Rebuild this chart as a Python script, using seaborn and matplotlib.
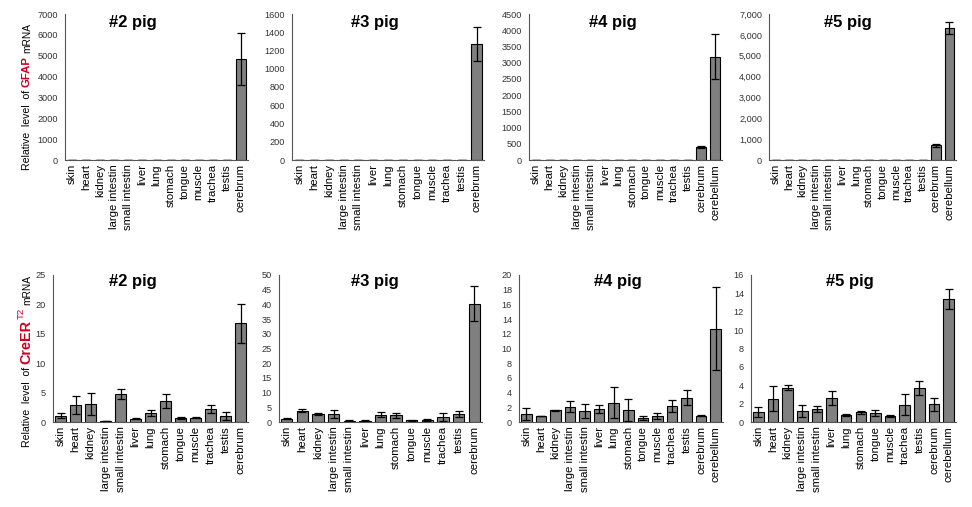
import numpy as np
import pandas as pd
import matplotlib
matplotlib.use('Agg')
import matplotlib.pyplot as plt
import seaborn as sns
from matplotlib.ticker import MultipleLocator, StrMethodFormatter
from matplotlib.transforms import IdentityTransform

# tissues
tissues13 = ['skin', 'heart', 'kidney', 'large intestin', 'small intestin', 'liver',
             'lung', 'stomach', 'tongue', 'muscle', 'trachea', 'testis', 'cerebrum']
tissues14 = tissues13 + ['cerebellum']

# GFAP mRNA (top row)
gfap_pig2 = [8, 8, 8, 8, 8, 8, 8, 8, 8, 8, 8, 8, 4830]
gfap_pig2_err = [0, 0, 0, 0, 0, 0, 0, 0, 0, 0, 0, 0, 1245]
gfap_pig3 = [3, 3, 3, 3, 3, 3, 3, 3, 3, 3, 3, 3, 1271]
gfap_pig3_err = [0, 0, 0, 0, 0, 0, 0, 0, 0, 0, 0, 0, 190]
gfap_pig4 = [8, 8, 8, 8, 8, 8, 8, 8, 8, 8, 8, 8, 400, 3185]
gfap_pig4_err = [0, 0, 0, 0, 0, 0, 0, 0, 0, 0, 0, 0, 20, 690]
gfap_pig5 = [10, 10, 10, 10, 10, 10, 10, 10, 10, 10, 10, 10, 710, 6313]
gfap_pig5_err = [0, 0, 0, 0, 0, 0, 0, 0, 0, 0, 0, 0, 80, 290]

# CreERT2 mRNA (bottom row)
cre_pig2 = [1.1, 2.9, 3.1, 0.1, 4.8, 0.55, 1.5, 3.5, 0.7, 0.7, 2.2, 1.0, 16.8]
cre_pig2_err = [0.5, 1.5, 1.9, 0.0, 0.85, 0.1, 0.55, 1.2, 0.15, 0.1, 0.7, 0.7, 3.3]
cre_pig3 = [1.1, 3.9, 2.8, 2.8, 0.5, 0.5, 2.5, 2.3, 0.6, 0.7, 1.7, 2.8, 40.3]
cre_pig3_err = [0.2, 0.6, 0.3, 1.4, 0.1, 0.1, 0.9, 0.9, 0.1, 0.2, 1.4, 1.0, 6.0]
cre_pig4 = [1.1, 0.8, 1.6, 2.1, 1.55, 1.8, 2.6, 1.65, 0.55, 0.8, 2.2, 3.3, 0.85, 12.7]
cre_pig4_err = [0.85, 0.05, 0.1, 0.8, 0.95, 0.55, 2.1, 1.5, 0.25, 0.4, 0.8, 1.05, 0.1, 5.6]
cre_pig5 = [1.1, 2.55, 3.75, 1.2, 1.4, 2.6, 0.75, 1.05, 0.95, 0.65, 1.9, 3.7, 1.95, 13.4]
cre_pig5_err = [0.55, 1.35, 0.3, 0.7, 0.35, 0.75, 0.1, 0.2, 0.35, 0.1, 1.1, 0.8, 0.7, 1.1]

sns.set_style('white')
plt.rcParams['font.family'] = ['Liberation Sans', 'DejaVu Sans']

W, H = 972, 507
fig = plt.figure(figsize=(W / 100, H / 100), dpi=100)


def add_ax(left, top, right, bottom):
    return fig.add_axes([left / W, 1 - bottom / H, (right - left) / W, (bottom - top) / H])


def draw_panel(ax, names, vals, errs, ymax, step, title, tx, ty, comma=False):
    df = pd.DataFrame({'tissue': names, 'value': vals})
    sns.barplot(data=df, x='tissue', y='value', color='#808080', saturation=1,
                edgecolor='black', linewidth=0.8, width=0.72, errorbar=None, ax=ax)
    ax.errorbar(np.arange(len(names)), vals, yerr=errs, fmt='none', ecolor='black',
                elinewidth=0.9, capsize=3, capthick=0.9)
    n = len(names)
    ax.set_xlim(-0.5, n - 0.5)
    ax.set_ylim(0, ymax)
    ax.yaxis.set_major_locator(MultipleLocator(step))
    if comma:
        ax.yaxis.set_major_formatter(StrMethodFormatter('{x:,.0f}'))
    ax.set_xticks(np.arange(-0.5, n, 1), minor=True)
    ax.tick_params(axis='x', which='major', length=0, labelsize=8.2, rotation=90, pad=3,
                   labelcolor='black')
    ax.tick_params(axis='x', which='minor', length=3, width=0.7, color='#555555', direction='out')
    ax.tick_params(axis='y', length=3, width=0.7, color='#555555', direction='out',
                   labelsize=6.6, labelcolor='#333333', pad=2)
    ax.set_xlabel('')
    ax.set_ylabel('')
    for s in ['top', 'right']:
        ax.spines[s].set_visible(False)
    for s in ['left', 'bottom']:
        ax.spines[s].set_color('#555555')
        ax.spines[s].set_linewidth(0.8)
    ax.text(tx, ty, title, transform=ax.transAxes, ha='center', va='baseline',
            fontsize=12, fontweight='bold', color='black')


a1 = add_ax(65, 14, 248, 160)
a2 = add_ax(292, 14, 484, 160)
a3 = add_ax(529, 14, 722, 160)
a4 = add_ax(769, 14, 956, 160)
b1 = add_ax(53, 275, 248, 422)
b2 = add_ax(279, 275, 482, 422)
b3 = add_ax(519, 275, 723, 422)
b4 = add_ax(751, 275, 956, 422)

draw_panel(a1, tissues13, gfap_pig2, gfap_pig2_err, 7000, 1000, '#2 pig', 0.37, 0.91)
draw_panel(a2, tissues13, gfap_pig3, gfap_pig3_err, 1600, 200, '#3 pig', 0.43, 0.91)
draw_panel(a3, tissues14, gfap_pig4, gfap_pig4_err, 4500, 500, '#4 pig', 0.435, 0.91)
draw_panel(a4, tissues14, gfap_pig5, gfap_pig5_err, 7000, 1000, '#5 pig', 0.42, 0.91, comma=True)
draw_panel(b1, tissues13, cre_pig2, cre_pig2_err, 25, 5, '#2 pig', 0.41, 0.925)
draw_panel(b2, tissues13, cre_pig3, cre_pig3_err, 50, 5, '#3 pig', 0.47, 0.925)
draw_panel(b3, tissues14, cre_pig4, cre_pig4_err, 20, 2, '#4 pig', 0.485, 0.925)
draw_panel(b4, tissues14, cre_pig5, cre_pig5_err, 16, 2, '#5 pig', 0.48, 0.925)

# multi-colour rotated y labels, drawn piece by piece in pixel coordinates
renderer = fig.canvas.get_renderer()
red = '#cc0020'


def vlabel(x, y, parts):
    for text, kw, dx, gap in parts:
        t = fig.text(x - dx, y, text, transform=IdentityTransform(), rotation=90,
                     rotation_mode='anchor', ha='left', va='baseline', **kw)
        bb = t.get_window_extent(renderer)
        y = bb.y1 + gap


vlabel(30, H - 170, [
    ('Relative  level  of', dict(fontsize=7.6, color='black'), 0, 3),
    ('GFAP', dict(fontsize=8.2, color=red, fontweight='bold'), 0, 3),
    ('mRNA', dict(fontsize=7.3, color='black'), 0, 0),
])
vlabel(30, H - 447, [
    ('Relative  level  of', dict(fontsize=7.6, color='black'), 0, 3),
    ('CreER', dict(fontsize=10.4, color=red, fontweight='bold'), 0, 0.5),
    ('T2', dict(fontsize=6.8, color=red), 6, 3),
    ('mRNA', dict(fontsize=7.3, color='black'), 0, 0),
])

fig.savefig('out.png', dpi=100)
